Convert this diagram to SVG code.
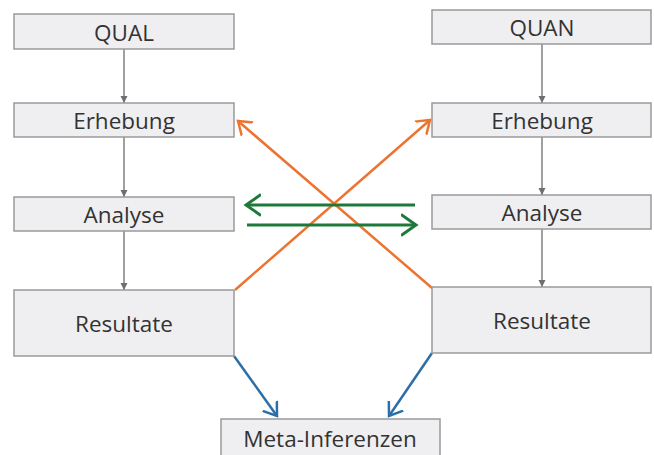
<svg xmlns="http://www.w3.org/2000/svg" width="654" height="455" viewBox="0 0 654 455">
<defs>
<style>
.box{fill:#efeff1;stroke:#9a9a9a;stroke-width:1.5}
.t{font-family:"Open Sans","Liberation Sans",sans-serif;font-size:22.5px;fill:#333;text-anchor:middle;dominant-baseline:central}
.g{stroke:#6e6e6e;stroke-width:1.3;fill:none}
.o{stroke:#ec7430;stroke-width:2.5;fill:none}
.gr{stroke:#1d7a3a;stroke-width:3;fill:none}
.b{stroke:#2c6fa8;stroke-width:2.5;fill:none}
</style>
<marker id="ag" markerWidth="8" markerHeight="8" refX="7" refY="4" orient="auto" markerUnits="userSpaceOnUse"><path d="M0,0.5 L7,4 L0,7.5 Z" fill="#6e6e6e"/></marker>
<marker id="ao" markerWidth="6" markerHeight="8" refX="5" refY="4" orient="auto"><path d="M0,0.5 L5,4 L0,7.5" fill="none" stroke="#ec7430" stroke-width="1"/></marker>
<marker id="agr" markerWidth="6" markerHeight="8" refX="5" refY="4" orient="auto"><path d="M0,0.5 L5,4 L0,7.5" fill="none" stroke="#1d7a3a" stroke-width="1"/></marker>
<marker id="ab" markerWidth="6" markerHeight="8" refX="5" refY="4" orient="auto"><path d="M0,0.5 L5,4 L0,7.5" fill="none" stroke="#2c6fa8" stroke-width="1"/></marker>
</defs>
<g id="connectors">
<line class="g" x1="124" y1="49" x2="124" y2="103" marker-end="url(#ag)"/>
<line class="g" x1="124" y1="137" x2="124" y2="197" marker-end="url(#ag)"/>
<line class="g" x1="124" y1="231" x2="124" y2="290" marker-end="url(#ag)"/>
<line class="g" x1="542" y1="44" x2="542" y2="103" marker-end="url(#ag)"/>
<line class="g" x1="542" y1="137" x2="542" y2="195" marker-end="url(#ag)"/>
<line class="g" x1="542" y1="229" x2="542" y2="287" marker-end="url(#ag)"/>
<line class="o" x1="235" y1="290" x2="430" y2="120" marker-end="url(#ao)"/>
<line class="o" x1="432" y1="288" x2="238" y2="121" marker-end="url(#ao)"/>
<line class="gr" x1="415" y1="205" x2="246" y2="205" marker-end="url(#agr)"/>
<line class="gr" x1="247" y1="225" x2="416" y2="225" marker-end="url(#agr)"/>
<line class="b" x1="234" y1="356" x2="277" y2="416" marker-end="url(#ab)"/>
<line class="b" x1="432" y1="353" x2="389" y2="416" marker-end="url(#ab)"/>
</g>
<g id="qual"><rect class="box" x="14" y="14" width="220" height="35"/><text class="t" x="124" y="32">QUAL</text></g>
<g id="erhebung-l"><rect class="box" x="14" y="103" width="220" height="34"/><text class="t" x="124" y="120">Erhebung</text></g>
<g id="analyse-l"><rect class="box" x="14" y="197" width="220" height="34"/><text class="t" x="124" y="214">Analyse</text></g>
<g id="resultate-l"><rect class="box" x="14" y="290" width="220" height="66"/><text class="t" x="124" y="323">Resultate</text></g>
<g id="quan"><rect class="box" x="432" y="10" width="219" height="34"/><text class="t" x="542" y="27">QUAN</text></g>
<g id="erhebung-r"><rect class="box" x="432" y="103" width="219" height="34"/><text class="t" x="542" y="120">Erhebung</text></g>
<g id="analyse-r"><rect class="box" x="432" y="195" width="219" height="34"/><text class="t" x="542" y="212">Analyse</text></g>
<g id="resultate-r"><rect class="box" x="432" y="287" width="219" height="66"/><text class="t" x="542" y="320">Resultate</text></g>
<g id="meta"><rect class="box" x="221" y="419" width="219" height="40"/><text class="t" x="330" y="438">Meta-Inferenzen</text></g>
</svg>
